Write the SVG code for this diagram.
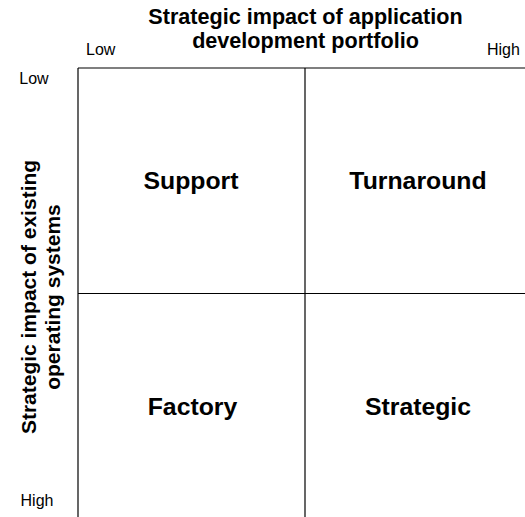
<svg xmlns="http://www.w3.org/2000/svg" width="525" height="517" viewBox="0 0 525 517">
<style>
.t{font-family:"Liberation Sans",Arial,sans-serif;fill:#000}
.b{font-weight:bold;font-size:21.6px}
.v{font-weight:bold;font-size:21px}
.q{font-weight:bold;font-size:24.8px}
.s{font-size:16px}
.ln{stroke:#000;stroke-width:1.2;fill:none}
</style>
<rect width="525" height="517" fill="#fff"/>
<g id="connectors">
<line class="ln" x1="78" y1="68" x2="525" y2="68"/>
<line class="ln" x1="78" y1="68" x2="78" y2="517"/>
<line class="ln" x1="305" y1="68" x2="305" y2="517"/>
<line class="ln" x1="78" y1="293.5" x2="525" y2="293.5"/>
</g>
<g id="x-axis-title">
<text class="t b" x="305.5" y="24" text-anchor="middle">Strategic impact of application</text>
<text class="t b" x="305.5" y="48" text-anchor="middle">development portfolio</text>
</g>
<g id="x-low"><text class="t s" x="86" y="55">Low</text></g>
<g id="x-high"><text class="t s" x="487" y="55">High</text></g>
<g id="y-axis-title">
<text class="t v" transform="translate(36,297) rotate(-90)" text-anchor="middle">Strategic impact of existing</text>
<text class="t v" transform="translate(60,297) rotate(-90)" text-anchor="middle">operating systems</text>
</g>
<g id="y-low"><text class="t s" x="34" y="84" text-anchor="middle">Low</text></g>
<g id="y-high"><text class="t s" x="37" y="506" text-anchor="middle">High</text></g>
<g id="support"><text class="t q" x="191" y="189" text-anchor="middle">Support</text></g>
<g id="turnaround"><text class="t q" x="418" y="189" text-anchor="middle">Turnaround</text></g>
<g id="factory"><text class="t q" x="192.5" y="415" text-anchor="middle">Factory</text></g>
<g id="strategic"><text class="t q" x="418" y="415" text-anchor="middle">Strategic</text></g>
</svg>
